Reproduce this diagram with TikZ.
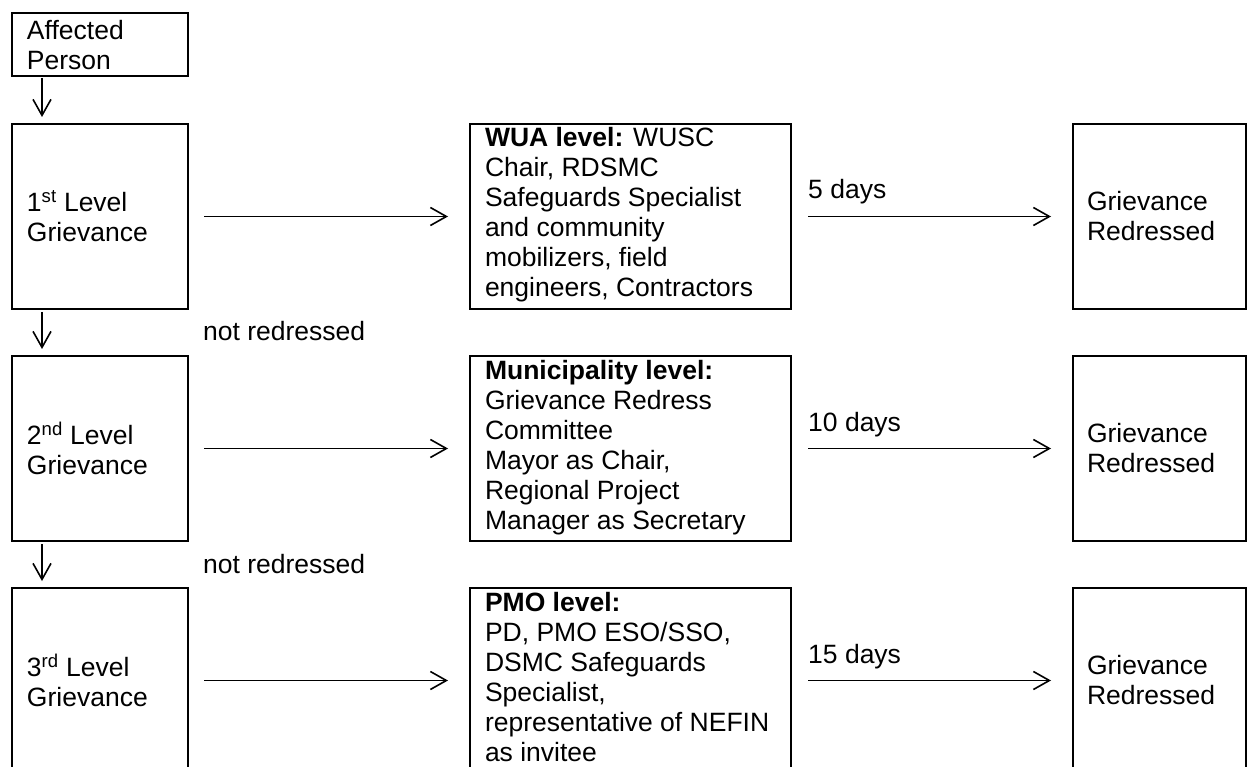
\documentclass[tikz,border=0pt]{standalone}
\usepackage{fontspec}
\setmainfont{Liberation Sans}
\usetikzlibrary{arrows.meta,calc}
\tikzset{
  box/.style={draw, line width=2.3pt, inner xsep=15pt, inner ysep=0pt, outer sep=0pt, anchor=north west},
  rbox/.style={box, inner xsep=14pt},
  arr/.style={-{Straight Barb[length=16pt,width=18pt]}, line width=1.6pt},
  lbl/.style={inner sep=0pt, anchor=base west},
}
\begin{document}
\begin{tikzpicture}[x=1pt,y=-1pt,font=\fontsize{26.5}{30}\selectfont]
\useasboundingbox (0,0) rectangle (1248,767);
\clip (0,0) rectangle (1248,767);
% top
\node[box] (ap) at (12,13) {\parbox[c][63pt][t]{146pt}{\rule{0pt}{27pt}Affected\\Person}};
% row 1
\node[box] (l1) at (12,124) {\parbox[c][185pt][c]{146pt}{1\textsuperscript{st} Level\\Grievance}};
\node[box] (m1) at (470,124) {\parbox[c][185pt][t]{291pt}{\rule{0pt}{23pt}\textbf{WUA level:} WUSC\\Chair, RDSMC\\Safeguards Specialist\\and community\\mobilizers, field\\engineers, Contractors}};
\node[rbox] (r1) at (1073,124) {\parbox[c][185pt][c]{145pt}{Grievance\\Redressed}};
% row 2
\node[box] (l2) at (12,356) {\parbox[c][185pt][c]{146pt}{2\textsuperscript{nd} Level\\Grievance}};
\node[box] (m2) at (470,356) {\parbox[c][185pt][t]{291pt}{\rule{0pt}{23pt}\textbf{Municipality level:}\\Grievance Redress\\Committee\\Mayor as Chair,\\Regional Project\\Manager as Secretary}};
\node[rbox] (r2) at (1073,356) {\parbox[c][185pt][c]{145pt}{Grievance\\Redressed}};
% row 3
\node[box] (l3) at (12,588) {\parbox[c][185pt][c]{146pt}{3\textsuperscript{rd} Level\\Grievance}};
\node[box] (m3) at (470,588) {\parbox[c][185pt][t]{291pt}{\rule{0pt}{23pt}\textbf{PMO level:}\\PD, PMO ESO/SSO,\\DSMC Safeguards\\Specialist,\\representative of NEFIN\\as invitee}};
\node[rbox] (r3) at (1073,588) {\parbox[c][185pt][c]{145pt}{Grievance\\Redressed}};
% labels
\node[lbl] (t1) at (808,199) {5 days};
\node[lbl] (t2) at (808,431) {10 days};
\node[lbl] (t3) at (808,663) {15 days};
\node[lbl] (n1) at (203,341) {not redressed};
\node[lbl] (n2) at (203,573) {not redressed};
% vertical arrows
\draw[arr, shorten <=2pt, shorten >=7pt] ($(ap.south west)+(30,0)$) -- ($(l1.north west)+(30,0)$);
\draw[arr, shorten <=3pt, shorten >=7pt] ($(l1.south west)+(30,0)$) -- ($(l2.north west)+(30,0)$);
\draw[arr, shorten <=3pt, shorten >=7pt] ($(l2.south west)+(30,0)$) -- ($(l3.north west)+(30,0)$);
% horizontal arrows
\draw[arr, shorten <=16pt, shorten >=22pt] (l1.east) -- (m1.west);
\draw[arr, shorten <=16pt, shorten >=22pt] (l2.east) -- (m2.west);
\draw[arr, shorten <=16pt, shorten >=22pt] (l3.east) -- (m3.west);
\draw[arr, shorten <=17pt, shorten >=22pt] (m1.east) -- (r1.west);
\draw[arr, shorten <=17pt, shorten >=22pt] (m2.east) -- (r2.west);
\draw[arr, shorten <=17pt, shorten >=22pt] (m3.east) -- (r3.west);
\end{tikzpicture}
\end{document}
